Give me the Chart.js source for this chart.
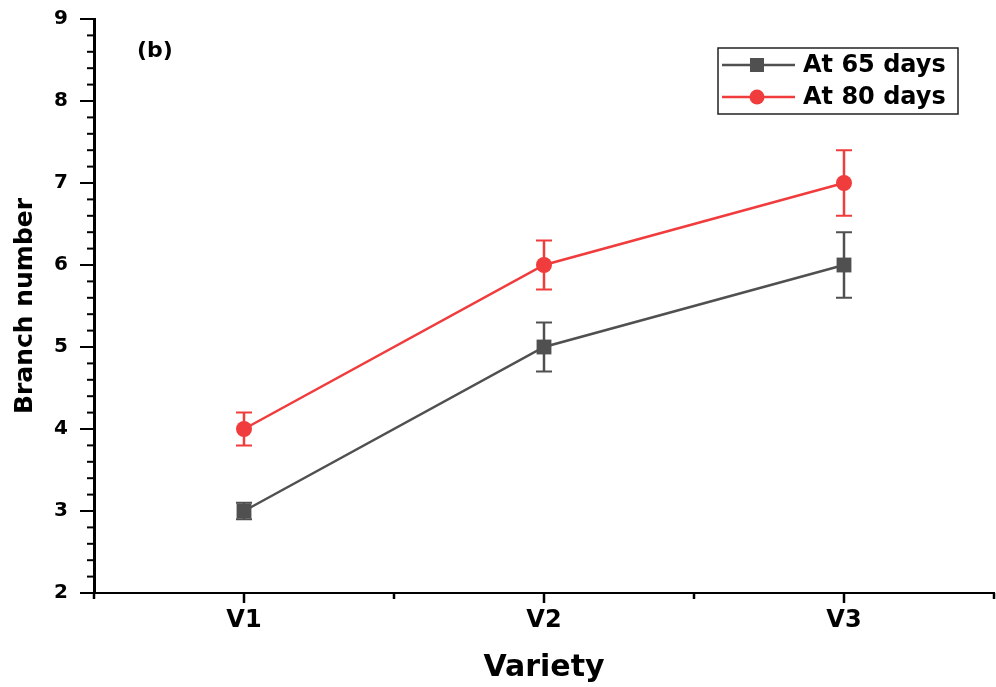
<!DOCTYPE html>
<html>
<head>
<meta charset="utf-8">
<script src="https://cdn.jsdelivr.net/npm/chart.js@4"></script>
<style>
  html, body { margin: 0; padding: 0; background: #ffffff; }
  #wrap { width: 996px; height: 687px; }
</style>
</head>
<body>
<div id="wrap"><canvas id="c" width="996" height="687"></canvas></div>
<script>
// ---- data ----
const categories = ['V1', 'V2', 'V3'];
const days65 = [3, 5, 6];
const err65 = [0.1, 0.3, 0.4];
const days80 = [4, 6, 7];
const err80 = [0.2, 0.3, 0.4];
const seriesNames = ['At 65 days', 'At 80 days'];
const yTickValues = [2, 3, 4, 5, 6, 7, 8, 9];
const panelLabel = '(b)';

const GRAY = '#505050';
const RED = '#F03C3C';
const FONT = "'DejaVu Sans', 'Liberation Sans', Arial, sans-serif";

function toPoints(vals, errs) {
  return vals.map((v, i) => ({ x: i + 1, y: v, err: errs[i] }));
}

const errorBarPlugin = {
  id: 'errorBars',
  beforeDatasetsDraw(chart) {
    const ctx = chart.ctx;
    const ys = chart.scales.y, xs = chart.scales.x;
    chart.data.datasets.forEach((ds, di) => {
      const meta = chart.getDatasetMeta(di);
      if (meta.hidden) return;
      ctx.save();
      ctx.strokeStyle = ds.borderColor;
      ds.data.forEach(p => {
        const x = xs.getPixelForValue(p.x);
        const yt = ys.getPixelForValue(p.y + p.err);
        const yb = ys.getPixelForValue(p.y - p.err);
        ctx.lineWidth = 2.5;
        ctx.beginPath();
        ctx.moveTo(x, yt); ctx.lineTo(x, yb);
        ctx.stroke();
        ctx.lineWidth = 2;
        ctx.beginPath();
        ctx.moveTo(x - 8, yt); ctx.lineTo(x + 8, yt);
        ctx.moveTo(x - 8, yb); ctx.lineTo(x + 8, yb);
        ctx.stroke();
      });
      ctx.restore();
    });
  }
};

const ticksPlugin = {
  id: 'tickMarks',
  afterDraw(chart) {
    const ctx = chart.ctx;
    const xs = chart.scales.x, ys = chart.scales.y;
    const area = chart.chartArea;
    ctx.save();
    ctx.strokeStyle = '#000';
    // x ticks
    ctx.lineWidth = 2.5;
    xs.ticks.forEach(t => {
      const px = xs.getPixelForValue(t.value);
      const major = Math.abs(t.value - Math.round(t.value)) < 1e-6;
      const len = major ? 10 : 6;
      ctx.beginPath();
      ctx.moveTo(px, area.bottom); ctx.lineTo(px, area.bottom + len);
      ctx.stroke();
    });
    // y ticks (major every 1, minor every 0.2)
    ctx.lineWidth = 2;
    const steps = Math.round((ys.max - ys.min) / 0.2);
    for (let i = 0; i <= steps; i++) {
      const v = ys.min + i * 0.2;
      const py = ys.getPixelForValue(v);
      const major = i % 5 === 0;
      const len = major ? 14 : 7;
      ctx.beginPath();
      ctx.moveTo(area.left - len, py); ctx.lineTo(area.left, py);
      ctx.stroke();
    }
    ctx.restore();
  }
};

const legendPlugin = {
  id: 'customLegend',
  afterDraw(chart) {
    const ctx = chart.ctx;
    ctx.save();
    // box
    ctx.strokeStyle = '#222';
    ctx.lineWidth = 1.5;
    ctx.strokeRect(718, 48, 240, 66);
    const rows = [65, 97];
    chart.data.datasets.forEach((ds, i) => {
      const y = rows[i];
      ctx.strokeStyle = ds.borderColor;
      ctx.lineWidth = 2.5;
      ctx.beginPath();
      ctx.moveTo(722, y); ctx.lineTo(795, y);
      ctx.stroke();
      ctx.fillStyle = ds.backgroundColor;
      if (ds.pointStyle === 'rect') {
        ctx.fillRect(757 - 7, y - 7, 14, 14);
      } else {
        ctx.beginPath();
        ctx.arc(757, y, 7.5, 0, Math.PI * 2);
        ctx.fill();
      }
      ctx.fillStyle = '#000';
      ctx.font = 'bold 24px ' + FONT;
      ctx.textBaseline = 'middle';
      ctx.textAlign = 'left';
      ctx.fillText(ds.label, 803, y + 1);
    });
    // panel label
    ctx.fillStyle = '#000';
    ctx.font = 'bold 22px ' + FONT;
    ctx.textBaseline = 'middle';
    ctx.fillText(panelLabel, 137, 51);
    ctx.restore();
  }
};

new Chart(document.getElementById('c'), {
  type: 'line',
  data: {
    datasets: [
      {
        label: seriesNames[0],
        data: toPoints(days65, err65),
        borderColor: GRAY,
        backgroundColor: GRAY,
        borderWidth: 2.5,
        pointStyle: 'rect',
        pointRadius: 10.5,
        pointHoverRadius: 10.5,
        pointBorderWidth: 0,
        tension: 0
      },
      {
        label: seriesNames[1],
        data: toPoints(days80, err80),
        borderColor: RED,
        backgroundColor: RED,
        borderWidth: 2.5,
        pointStyle: 'circle',
        pointRadius: 8,
        pointHoverRadius: 8,
        pointBorderWidth: 0,
        tension: 0
      }
    ]
  },
  options: {
    responsive: false,
    animation: false,
    devicePixelRatio: 1,
    layout: { autoPadding: false, padding: { top: 19, right: 2, left: 0, bottom: 0 } },
    plugins: {
      legend: { display: false },
      tooltip: { enabled: false }
    },
    scales: {
      x: {
        type: 'linear',
        min: 0.5,
        max: 3.5,
        afterFit(scale) {
          scale.height = 94;
          scale.paddingLeft = 0; scale.paddingRight = 0;
        },
        afterBuildTicks(scale) {
          const t = [];
          for (let i = 0; i <= categories.length * 2; i++) t.push({ value: 0.5 + i * 0.5 });
          scale.ticks = t;
        },
        ticks: {
          autoSkip: false,
          maxRotation: 0,
          padding: 13,
          color: '#000',
          font: { family: FONT, size: 24, weight: 'bold' },
          callback: (v) => {
            const r = Math.round(v);
            return Math.abs(v - r) < 1e-6 ? (categories[r - 1] || '') : '';
          }
        },
        grid: { display: true, drawOnChartArea: false, drawTicks: false },
        border: { display: true, color: '#000', width: 2 },
        title: {
          display: true,
          text: 'Variety',
          color: '#000',
          font: { family: FONT, size: 30, weight: 'bold' },
          padding: { top: 0, bottom: 1 }
        }
      },
      y: {
        type: 'linear',
        min: yTickValues[0],
        max: yTickValues[yTickValues.length - 1],
        afterFit(scale) {
          scale.width = 94;
          scale.paddingTop = 0; scale.paddingBottom = 0;
        },
        afterBuildTicks(scale) {
          scale.ticks = yTickValues.map(v => ({ value: v }));
        },
        ticks: {
          padding: 26,
          color: '#000',
          font: { family: FONT, size: 20, weight: 'bold' }
        },
        grid: { display: true, drawOnChartArea: false, drawTicks: false },
        border: { display: true, color: '#000', width: 3 },
        title: {
          display: true,
          text: 'Branch number',
          color: '#000',
          font: { family: FONT, size: 25, weight: 'bold' },
          padding: { top: 10, bottom: 0 }
        }
      }
    }
  },
  plugins: [errorBarPlugin, ticksPlugin, legendPlugin]
});
</script>
</body>
</html>
